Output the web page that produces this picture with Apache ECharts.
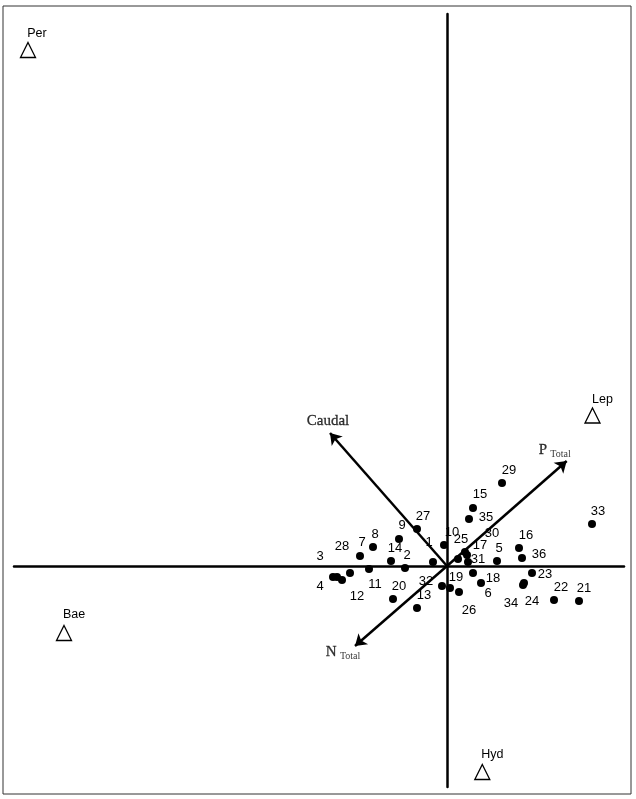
<!DOCTYPE html>
<html>
<head>
<meta charset="utf-8">
<script src="https://cdn.jsdelivr.net/npm/echarts@6/dist/echarts.min.js"></script>
<style>
  html, body { margin: 0; padding: 0; background: #fff; }
  #chart { width: 636px; height: 799px; }
</style>
</head>
<body>
<div id="chart"></div>
<script>
// sample scores (axis 1, axis 2)
var pointIds = ['27','9','8','7','28','3','4','12','11','14','2','20','13','1','10','32','19','26',
                '18','6','5','25','17','30','31','15','35','29','33','16','36','23','34','24','22','21'];
var pointX = [-0.30,-0.48,-0.74,-0.87,-0.97,-1.10,-1.14,-1.05,-0.78,-0.56,-0.42,-0.54,-0.30,-0.14,-0.03,-0.05,0.03,0.12,
              0.26,0.34,0.50,0.11,0.18,0.20,0.21,0.26,0.22,0.55,1.45,0.72,0.75,0.85,0.76,0.77,1.07,1.32];
var pointY = [0.37,0.27,0.19,0.10,-0.07,-0.11,-0.11,-0.14,-0.03,0.05,-0.02,-0.33,-0.42,0.04,0.21,-0.20,-0.22,-0.26,
              -0.07,-0.17,0.05,0.07,0.14,0.11,0.04,0.58,0.47,0.83,0.42,0.18,0.08,-0.07,-0.19,-0.17,-0.34,-0.35];

// species scores
var siteNames = ['Per','Lep','Bae','Hyd'];
var siteX = [-4.19, 1.455, -3.83, 0.353];
var siteY = [5.16, 1.505, -0.67, -2.06];

// environmental vectors
var vectorNames = ['Caudal','P','N'];
var vectorSubs = ['','Total','Total'];
var vectorX = [-1.17, 1.197, -0.92];
var vectorY = [1.33, 1.05, -0.80];

// label offsets in pixels (layout only)
var pointLabelOffsets = [[6,-13],[3,-14],[2,-13],[2,-14],[-8,-27],[-17,-21],[-13,9],[15,16],[6,15],[4,-13],[2,-13],[6,-13],[7,-13],[-4,-20],[8,-13],[-16,-5],[6,-11],[10,18],
                         [20,5],[7,10],[2,-13],[3,-20],[15,-7],[25,-22],[10,-3],[7,-14],[17,-2],[7,-13],[6,-13],[7,-13],[17,-4],[13,1],[-12,18],[8,18],[7,-13],[5,-13]];
var siteLabelOffsets = [[9,-16],[10,-16],[10,-18],[10,-17]];
var vectorLabelOffsets = [[-2,-12],[-12,-11],[-12,6]];

var chart = echarts.init(document.getElementById('chart'));

var points = [];
for (var i = 0; i < pointIds.length; i++) {
    points.push({
        name: pointIds[i],
        value: [pointX[i], pointY[i]],
        label: {offset: pointLabelOffsets[i]}
    });
}
var sites = [];
for (var i = 0; i < siteNames.length; i++) {
    sites.push({
        name: siteNames[i],
        value: [siteX[i], siteY[i]],
        label: {offset: siteLabelOffsets[i]}
    });
}
var arrows = [];
var arrowTips = [];
for (var i = 0; i < vectorNames.length; i++) {
    arrows.push({coords: [[0, 0], [vectorX[i], vectorY[i]]]});
    arrowTips.push({
        name: vectorNames[i],
        sub: vectorSubs[i],
        value: [vectorX[i], vectorY[i]],
        label: {offset: vectorLabelOffsets[i]}
    });
}

var axisStyle = {
    type: 'value',
    axisLine: {show: true, onZero: true, lineStyle: {color: '#000', width: 2.5}},
    axisTick: {show: false},
    axisLabel: {show: false},
    splitLine: {show: false}
};

var option = {
    animation: false,
    backgroundColor: '#fff',
    grid: {left: 14, right: 12, top: 14, bottom: 12},
    xAxis: Object.assign({min: -4.33, max: 1.77}, axisStyle),
    yAxis: Object.assign({min: -2.21, max: 5.52}, axisStyle),
    graphic: [{
        type: 'rect',
        shape: {x: 3, y: 6, width: 628, height: 788},
        style: {fill: 'none', stroke: '#333', lineWidth: 1},
        silent: true
    }],
    series: [
        {
            type: 'lines',
            coordinateSystem: 'cartesian2d',
            data: arrows,
            symbol: ['none', 'arrow'],
            symbolSize: 11,
            lineStyle: {color: '#000', width: 2.5, opacity: 1},
            itemStyle: {color: '#000'},
            z: 3
        },
        {
            type: 'scatter',
            data: arrowTips,
            symbolSize: 0,
            itemStyle: {color: 'transparent'},
            label: {
                show: true,
                position: 'inside',
                formatter: function (p) {
                    return p.data.sub ? '{m|' + p.name + '} {s|' + p.data.sub + '}' : '{m|' + p.name + '}';
                },
                rich: {
                    m: {fontFamily: 'Liberation Serif', fontSize: 15, color: '#000', textBorderColor: '#000', textBorderWidth: 0.3},
                    s: {fontFamily: 'Liberation Serif', fontSize: 10, color: '#000', padding: [8, 0, 0, 0]}
                }
            },
            z: 4
        },
        {
            type: 'scatter',
            data: points,
            symbol: 'circle',
            symbolSize: 8,
            itemStyle: {color: '#000', opacity: 1},
            label: {
                show: true,
                position: 'inside',
                formatter: '{b}',
                color: '#000',
                fontFamily: 'Liberation Sans',
                fontSize: 13
            },
            z: 5
        },
        {
            type: 'scatter',
            data: sites,
            symbol: 'triangle',
            symbolSize: [15, 15],
            itemStyle: {color: '#fff', borderColor: '#000', borderWidth: 1.3, opacity: 1},
            label: {
                show: true,
                position: 'inside',
                formatter: '{b}',
                color: '#000',
                fontFamily: 'Liberation Sans',
                fontSize: 12.5
            },
            z: 5
        }
    ]
};
chart.setOption(option);
</script>
</body>
</html>
